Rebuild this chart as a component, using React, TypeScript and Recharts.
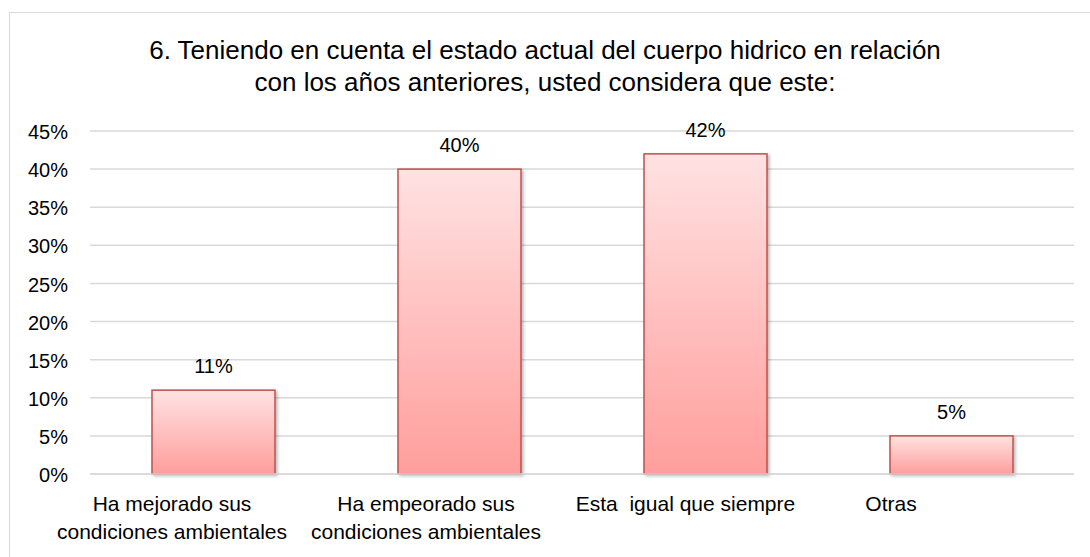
import React from "react";
import { BarChart, Bar, XAxis, YAxis, CartesianGrid, LabelList } from "recharts";

const categories = [
  "Ha mejorado sus\ncondiciones ambientales",
  "Ha empeorado sus\ncondiciones ambientales",
  "Esta  igual que siempre",
  "Otras",
];
const values = [11, 40, 42, 5];
const yTicks = [0, 5, 10, 15, 20, 25, 30, 35, 40, 45];
const titleLines = [
  "6. Teniendo en cuenta el estado actual del cuerpo hidrico en relación",
  "con los años anteriores, usted considera que este:",
];

const data = categories.map((c, i) => ({ name: c, value: values[i] }));

const FONT = "'Liberation Sans', Arial, Helvetica, sans-serif";
const labelShift = [-41, -33, -19.5, -60];

const CategoryTick = (props: any) => {
  const { x, y, payload, index } = props;
  const lines = String(payload.value).split("\n");
  const cx = x + (labelShift[index] ?? 0);
  return (
    <g>
      {lines.map((l, i) => (
        <text
          key={i}
          x={cx}
          y={y + 37 + i * 27.5}
          textAnchor="middle"
          fontSize={21}
          fontFamily={FONT}
          fill="#000"
          style={{ whiteSpace: "pre" }}
        >
          {l}
        </text>
      ))}
    </g>
  );
};

const BarShape = (props: any) => {
  const { x, y, width, height } = props;
  if (!height || height <= 0) return null;
  return (
    <g>
      <rect
        x={x}
        y={y}
        width={width}
        height={height}
        fill="url(#barGrad)"
        stroke="#C0504D"
        strokeWidth={1.5}
        filter="url(#barShadow)"
      />
    </g>
  );
};

export default function App() {
  return (
    <div
      style={{
        position: "absolute",
        left: 0,
        top: 0,
        width: 1090,
        height: 557,
        background: "#fff",
        overflow: "hidden",
        fontFamily: FONT,
      }}
    >
      <svg width={0} height={0} style={{ position: "absolute" }}>
        <defs>
          <linearGradient id="barGrad" x1="0" y1="0" x2="0" y2="1">
            <stop offset="0%" stopColor="#FFE2E2" />
            <stop offset="100%" stopColor="#FF9E9C" />
          </linearGradient>
          <filter id="barShadow" x="-10%" y="-10%" width="130%" height="130%">
            <feDropShadow dx="2" dy="1.5" stdDeviation="1.5" floodColor="#000" floodOpacity="0.25" />
          </filter>
        </defs>
      </svg>
      <div
        style={{
          position: "absolute",
          left: 9,
          top: 12,
          width: 1200,
          height: 700,
          borderLeft: "1.5px solid #D9D9D9",
          borderTop: "1.5px solid #D9D9D9",
          boxSizing: "border-box",
        }}
      />
      <div
        style={{
          position: "absolute",
          left: 0,
          top: 34,
          width: 1090,
          textAlign: "center",
          fontSize: 26,
          lineHeight: "32px",
          color: "#000",
          whiteSpace: "nowrap",
        }}
      >
        {titleLines.map((t, i) => (
          <div key={i}>{t}</div>
        ))}
      </div>
      <div style={{ position: "absolute", left: 0, top: 0 }}>
        <BarChart
          width={1090}
          height={557}
          data={data}
          margin={{ top: 131, right: 16, bottom: 0, left: 0 }}
        >
          <CartesianGrid vertical={false} stroke="#D9D9D9" strokeWidth={1.5} />
          <XAxis
            dataKey="name"
            height={83}
            tickLine={false}
            axisLine={{ stroke: "#D9D9D9", strokeWidth: 1.5 }}
            tickSize={0}
            tickMargin={0}
            interval={0}
            tick={<CategoryTick />}
          />
          <YAxis
            width={90}
            domain={[0, 45]}
            ticks={yTicks}
            interval={0}
            tickLine={false}
            axisLine={false}
            tickSize={0}
            tickMargin={22}
            tickFormatter={(v: number) => `${v}%`}
            tick={{ fontSize: 20, fill: "#000", fontFamily: FONT, dy: 1 }}
          />
          <Bar
            dataKey="value"
            barSize={123}
            isAnimationActive={false}
            shape={<BarShape />}
          >
            <LabelList
              dataKey="value"
              position="top"
              offset={17}
              formatter={(v: any) => `${v}%`}
              style={{ fontSize: 20, fill: "#000", fontFamily: FONT }}
            />
          </Bar>
        </BarChart>
      </div>
    </div>
  );
}
